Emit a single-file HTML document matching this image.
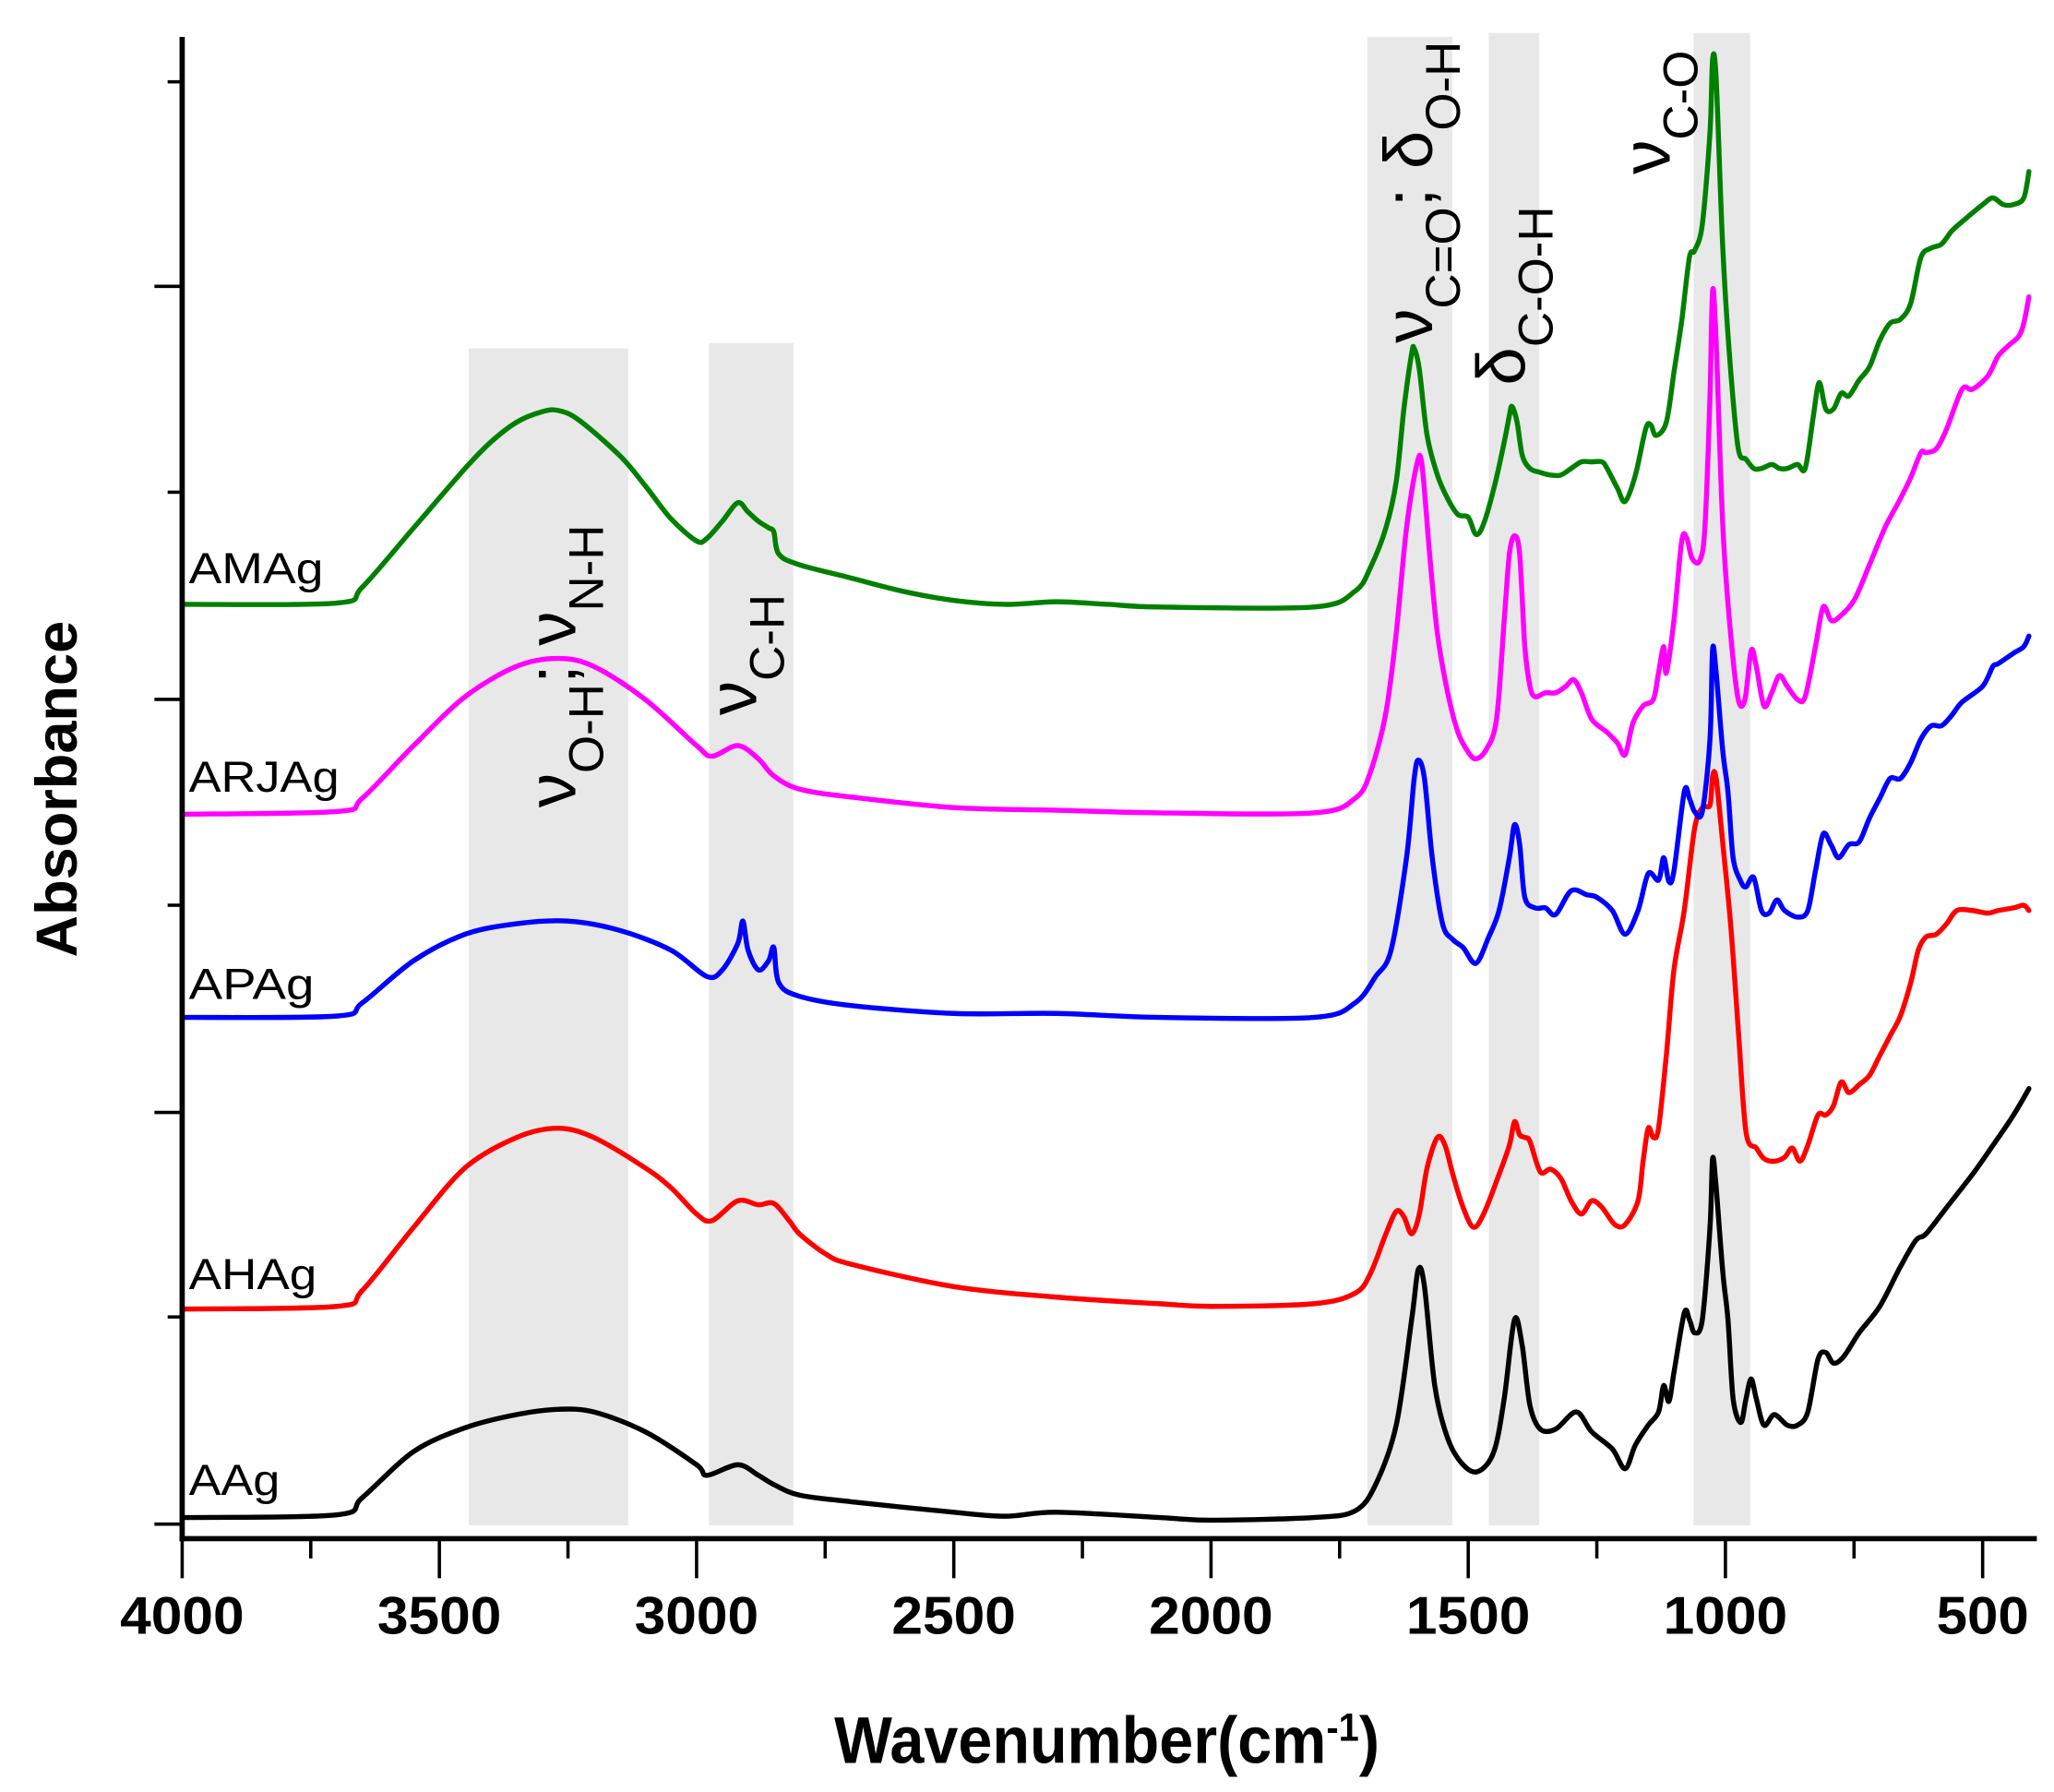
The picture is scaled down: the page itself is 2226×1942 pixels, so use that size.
<!DOCTYPE html>
<html><head><meta charset="utf-8"><style>
html,body{margin:0;padding:0;background:#fff}
svg{display:block}
text{font-family:"Liberation Sans",Arial,sans-serif}
</style></head><body>
<svg id="chart" width="2226" height="1942" viewBox="0 0 1556 1358" preserveAspectRatio="none" xmlns="http://www.w3.org/2000/svg">
<g id="bands"></g>
<g id="series"></g>
<g id="axes"></g>
<g id="labels"></g>
</svg>
<script>
// ---- data ----
const xTicks = [4000,3500,3000,2500,2000,1500,1000,500];
const seriesNames = ["AAg","AHAg","APAg","ARJAg","AMAg"];
const seriesColors = ["#000000","#ff0000","#0000ff","#ff00ff","#008000"];
const bandRanges = [[3443,3133],[2976,2812],[1696,1531],[1460,1362],[1062,952]];
const AAg = [[4000,5],[3700,7],[3650,20],[3550,55],[3450,73],[3350,83],[3270,87],[3200,85],[3100,70],[3000,45],[2980,37],[2920,45],[2880,37],[2850,30],[2800,22],[2700,17],[2500,9],[2400,6],[2300,9],[2100,5],[2000,3],[1800,5],[1720,10],[1680,30],[1640,75],[1610,155],[1597,193],[1585,180],[1565,105],[1540,65],[1510,45],[1480,40],[1450,55],[1430,95],[1410,155],[1395,135],[1380,90],[1360,72],[1330,72],[1290,85],[1260,70],[1220,57],[1195,42],[1175,60],[1150,75],[1130,85],[1120,105],[1110,93],[1100,115],[1080,160],[1070,155],[1060,145],[1045,155],[1030,225],[1025,277],[1018,255],[1005,190],[995,155],[985,95],[970,77],[960,95],[950,110],[940,95],[925,75],[905,83],[880,75],[860,75],[840,85],[820,125],[805,130],[790,122],[770,127],[740,145],[700,165],[660,195],[630,215],[610,220],[570,240],[520,265],[480,287],[440,310],[410,330]];
const AHAg = [[4000,163],[3700,165],[3650,177],[3550,225],[3450,270],[3350,293],[3270,300],[3200,293],[3100,270],[3050,255],[3000,235],[2970,230],[2920,245],[2880,242],[2850,243],[2820,230],[2800,220],[2750,205],[2700,197],[2500,180],[2300,172],[2100,167],[2000,165],[1800,167],[1720,175],[1690,190],[1660,220],[1640,237],[1625,233],[1610,220],[1595,235],[1580,270],[1560,293],[1545,287],[1530,265],[1510,240],[1490,225],[1470,235],[1440,265],[1420,287],[1410,305],[1400,295],[1390,293],[1380,290],[1360,267],[1340,269],[1320,262],[1300,245],[1280,235],[1260,245],[1240,240],[1215,227],[1195,227],[1170,245],[1160,275],[1150,300],[1140,293],[1130,300],[1115,355],[1100,420],[1080,465],[1060,527],[1045,543],[1030,545],[1025,567],[1018,565],[1005,515],[990,455],[975,375],[960,297],[940,285],[925,277],[905,275],[885,278],[870,285],[855,275],[840,287],[820,310],[805,310],[790,317],[775,335],[760,327],[740,333],[720,340],[700,355],[680,370],[660,385],[640,410],[625,435],[610,445],[590,447],[570,455],[550,465],[520,465],[490,463],[470,465],[440,467],[420,469],[410,465]];
const APAg = [[4000,384],[3700,385],[3650,395],[3550,427],[3450,447],[3350,455],[3250,457],[3150,450],[3050,435],[2980,415],[2950,420],[2920,440],[2910,457],[2900,435],[2880,420],[2860,427],[2850,437],[2840,410],[2800,400],[2700,393],[2500,387],[2300,387],[2100,384],[1800,384],[1720,395],[1680,415],[1650,435],[1620,505],[1605,565],[1597,579],[1585,565],[1570,505],[1550,455],[1530,443],[1510,437],[1485,425],[1460,445],[1440,465],[1420,505],[1410,530],[1400,515],[1390,475],[1370,467],[1350,467],[1330,462],[1300,480],[1270,477],[1250,475],[1220,465],[1195,447],[1170,465],[1150,493],[1130,488],[1120,505],[1110,487],[1100,495],[1080,555],[1070,550],[1060,540],[1045,540],[1030,595],[1025,663],[1018,645],[1005,585],[995,555],[985,505],[970,487],[960,483],[945,490],[930,465],[915,463],[900,473],[885,465],[860,460],[840,465],[825,495],[810,523],[795,515],[780,505],[760,515],[740,517],[720,535],[700,550],[680,565],[660,565],[640,577],[620,595],[600,605],[580,605],[560,613],[540,623],[500,635],[480,650],[470,652],[440,660],[420,665],[410,673]];
const ARJAg = [[4000,538],[3700,540],[3650,550],[3550,590],[3450,627],[3350,650],[3270,656],[3200,650],[3100,625],[3000,590],[2970,582],[2920,590],[2880,580],[2850,567],[2800,557],[2700,551],[2500,543],[2300,541],[2100,539],[1800,539],[1720,550],[1690,570],[1660,615],[1640,675],[1620,755],[1600,803],[1590,803],[1575,735],[1560,675],[1540,630],[1520,600],[1500,585],[1485,580],[1465,587],[1445,610],[1430,685],[1420,735],[1410,749],[1400,735],[1390,665],[1380,635],[1370,627],[1350,630],[1330,630],[1310,635],[1295,640],[1280,630],[1260,610],[1230,600],[1210,592],[1195,583],[1180,607],[1160,620],[1140,625],[1130,645],[1120,665],[1115,645],[1100,685],[1085,745],[1075,747],[1065,732],[1050,730],[1040,755],[1030,855],[1025,935],[1018,895],[1005,755],[990,675],[975,625],[962,625],[950,662],[940,650],[925,620],[910,630],[895,643],[880,635],[860,625],[845,627],[825,665],[810,695],[795,685],[780,687],[750,700],[720,727],[690,755],[660,777],[640,793],[620,812],[610,812],[590,815],[570,830],[540,860],[520,860],[490,870],[470,885],[450,893],[430,900],[420,910],[410,930]];
const AMAg = [[4000,697],[3700,698],[3650,710],[3550,755],[3450,800],[3400,820],[3350,835],[3300,843],[3270,844],[3230,837],[3150,810],[3100,787],[3050,762],[3000,745],[2980,747],[2950,760],[2920,774],[2900,767],[2880,760],[2860,755],[2850,752],[2840,735],[2800,727],[2700,717],[2600,707],[2500,700],[2400,697],[2300,699],[2200,697],[2100,695],[1800,695],[1720,707],[1690,725],[1660,755],[1640,790],[1625,845],[1610,887],[1605,891],[1595,875],[1580,825],[1560,795],[1540,777],[1520,765],[1500,763],[1485,750],[1470,758],[1450,785],[1430,820],[1420,840],[1415,847],[1405,835],[1395,810],[1380,800],[1360,797],[1340,795],[1320,795],[1300,800],[1280,805],[1260,805],[1240,805],[1230,800],[1210,785],[1195,775],[1175,795],[1155,830],[1145,833],[1135,825],[1115,835],[1100,873],[1085,912],[1070,960],[1060,965],[1045,985],[1030,1055],[1025,1110],[1018,1095],[1005,965],[990,875],[975,815],[960,807],[945,800],[930,800],[910,803],[895,800],[880,800],[860,803],[845,800],[830,837],[818,865],[805,845],[790,845],[775,857],[760,855],[740,867],[720,877],[700,897],[680,910],[660,913],[640,925],[620,960],[600,967],[580,970],[560,980],[540,987],[500,1000],[480,1005],[460,1000],[440,1000],[420,1005],[410,1025]];
const seriesData = [AAg,AHAg,APAg,ARJAg,AMAg];
const labelYs = [1133,977,757,600,442];
const labelWidths = [69,97,95,114,102];

// ---- scales ----
const X0=138, XPX=0.3897;
function xs(w){return X0+(4000-w)*XPX;}
function ys(v){return 1155-v;}
const NS="http://www.w3.org/2000/svg";
function mk(tag,attrs,parent){const e=document.createElementNS(NS,tag);for(const k in attrs)e.setAttribute(k,attrs[k]);parent.appendChild(e);return e;}
function smoothPath(pts){
  let d='M'+pts[0][0].toFixed(1)+','+pts[0][1].toFixed(1);
  for(let i=0;i<pts.length-1;i++){
    const p0=pts[Math.max(0,i-1)],p1=pts[i],p2=pts[i+1],p3=pts[Math.min(pts.length-1,i+2)];
    const t=0.16;
    const c1=[p1[0]+(p2[0]-p0[0])*t,p1[1]+(p2[1]-p0[1])*t];
    const c2=[p2[0]-(p3[0]-p1[0])*t,p2[1]-(p3[1]-p1[1])*t];
    d+='C'+c1[0].toFixed(1)+','+c1[1].toFixed(1)+' '+c2[0].toFixed(1)+','+c2[1].toFixed(1)+' '+p2[0].toFixed(1)+','+p2[1].toFixed(1);
  }
  return d;
}
const gB=document.getElementById('bands'),gS=document.getElementById('series'),gA=document.getElementById('axes'),gL=document.getElementById('labels');

const bandTops=[264,260,28,25,25];
bandRanges.forEach((b,i)=>{
  const r=mk('rect',{x:xs(b[0]),y:bandTops[i],width:xs(b[1])-xs(b[0]),height:1156-bandTops[i],fill:'#e8e8e8'},gB);
  
  
});

seriesData.forEach((d,i)=>{
  const pts=d.map(p=>[xs(p[0]),ys(p[1])]);
  const pl=mk('path',{d:smoothPath(pts),fill:'none',stroke:seriesColors[i],'stroke-width':3.8,'stroke-linejoin':'round','stroke-linecap':'round'},gS);
  
  
  const t=mk('text',{x:143,y:labelYs[i],'font-size':33,fill:'#000',textLength:labelWidths[i],lengthAdjust:'spacingAndGlyphs'},gL);
  t.textContent=seriesNames[i];
  
  
});

// axes
let l=mk('line',{x1:138,y1:28,x2:138,y2:1168,stroke:'#000','stroke-width':4},gA);


l=mk('line',{x1:136,y1:1166,x2:1543,y2:1166,stroke:'#000','stroke-width':4},gA);


for(let w=4000;w>=400;w-=250){
  const major=(w%500===0);
  const tk=mk('line',{x1:xs(w),y1:1166,x2:xs(w),y2:major?1196:1181,stroke:'#000','stroke-width':2.5},gA);
  
  
}
xTicks.forEach(w=>{
  const len=String(w).length>3?94:70;
  const t=mk('text',{x:xs(w),y:1238,'font-size':40,'font-weight':'bold','text-anchor':'middle',textLength:len,lengthAdjust:'spacingAndGlyphs'},gA);
  t.textContent=w;
  
  
});
[62,217,373,530,686,843,998,1155].forEach((y,i)=>{
  const major=(i%2===1)||i===7;
  const tk=mk('line',{x1:major?117:127,y1:y,x2:138,y2:y,stroke:'#000','stroke-width':2.5},gA);
  
  
});
</script>
<svg style="position:absolute;left:0;top:0" width="2226" height="1942" viewBox="0 0 1556 1358" preserveAspectRatio="none" xmlns="http://www.w3.org/2000/svg">
<text x="632" y="1336" font-size="50" font-weight="bold" font-family="Liberation Sans, sans-serif" textLength="413" lengthAdjust="spacingAndGlyphs">Wavenumber(cm<tspan baseline-shift="super" font-size="30">-1</tspan>)</text>
<text transform="translate(58,598) rotate(-90)" font-size="44" font-weight="bold" text-anchor="middle" font-family="Liberation Sans, sans-serif" textLength="255" lengthAdjust="spacingAndGlyphs">Absorbance</text>
<text transform="translate(436,612) rotate(-90)" font-size="52" font-family="Liberation Sans, sans-serif">ν<tspan font-size="37" baseline-shift="sub">O-H</tspan>; ν<tspan font-size="37" baseline-shift="sub">N-H</tspan></text>
<text transform="translate(573,542) rotate(-90)" font-size="52" font-family="Liberation Sans, sans-serif">ν<tspan font-size="37" baseline-shift="sub">C-H</tspan></text>
<text transform="translate(1085,260) rotate(-90)" font-size="52" font-family="Liberation Sans, sans-serif">ν<tspan font-size="37" baseline-shift="sub">C=O</tspan>; δ<tspan font-size="37" baseline-shift="sub">O-H</tspan></text>
<text transform="translate(1155,292) rotate(-90)" font-size="52" font-family="Liberation Sans, sans-serif">δ<tspan font-size="37" baseline-shift="sub">C-O-H</tspan></text>
<text transform="translate(1265,132) rotate(-90)" font-size="52" font-family="Liberation Sans, sans-serif">ν<tspan font-size="37" baseline-shift="sub">C-O</tspan></text>
</svg>
</body></html>
